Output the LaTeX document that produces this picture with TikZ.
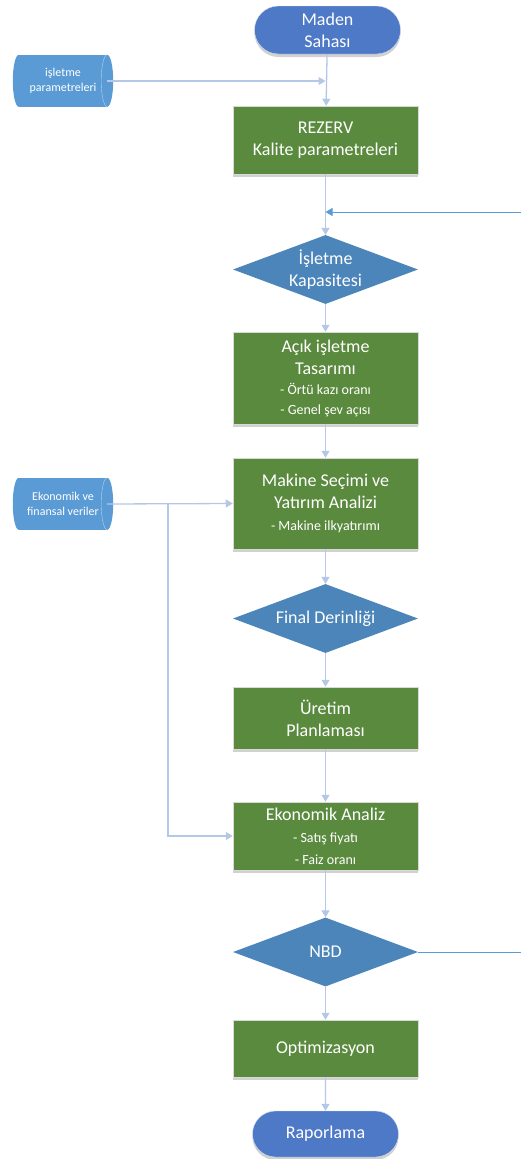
\documentclass[tikz,border=0pt]{standalone}
\usepackage{fontspec}
\setmainfont{Carlito}
\usetikzlibrary{shapes.geometric, shapes.misc, shadows, arrows.meta}
\definecolor{ucrenk}{HTML}{4E79C6}
\definecolor{kutu}{HTML}{5A8A3E}
\definecolor{karar}{HTML}{4B85BA}
\definecolor{veri}{HTML}{5B9BD5}
\definecolor{hat}{HTML}{B4C7E7}
\definecolor{donus}{HTML}{5B9BD5}

\begin{document}
\begin{tikzpicture}[x=1pt, y=-1pt,
  golge/.style={drop shadow={shadow xshift=0pt, shadow yshift=-3pt, opacity=0.3, fill=black!60}},
  uc/.style={rounded rectangle, fill=ucrenk, draw=white!75!ucrenk, minimum width=146pt, minimum height=48pt, inner sep=0pt, text=white, align=center, font=\fontsize{18}{22}\selectfont, golge},
  rec/.style={rectangle, fill=kutu, draw=black!15, line width=0.5pt, minimum width=185pt, inner sep=0pt, text=white, align=center, font=\fontsize{18}{22}\selectfont, golge},
  kar/.style={diamond, fill=karar, minimum width=185pt, minimum height=69pt, inner sep=0pt, aspect=2.7, text=white, align=center, font=\fontsize{18}{22}\selectfont},
  dat/.style={rectangle, fill=veri, minimum width=88pt, minimum height=52pt, inner sep=0pt, text=white, align=center, font=\fontsize{12}{14.5}\selectfont},
  ok/.style={draw=hat, line width=1.3pt, -{Triangle[length=7pt, width=8pt]}},
  don/.style={draw=donus, line width=0.9pt}]

  \useasboundingbox (0,0) rectangle (521,1159);

  \node[uc] (maden) at (327.5,30) {Maden\\Sahası};
  \node[dat] (param) at (63,81) {işletme\\parametreleri};
  \node[rec, minimum height=68pt] (rezerv) at (325.5,140) {REZERV\\Kalite parametreleri};
  \node[kar] (kapasite) at (325.5,269.5) {İşletme\\Kapasitesi};
  \node[rec, minimum height=92pt] (acik) at (325.5,378) {Açık işletme\\Tasarımı\\[-2pt]{\fontsize{14}{20}\selectfont - Örtü kazı oranı}\\[-2pt]{\fontsize{14}{20}\selectfont - Genel şev açısı}};
  \node[dat] (ekveri) at (63,504) {Ekonomik ve\\finansal veriler};
  \node[rec, minimum height=91pt] (makine) at (325.5,503.5) {Makine Seçimi ve\\Yatırım Analizi\\{\fontsize{14}{20}\selectfont - Makine ilkyatırımı}};
  \node[kar] (final) at (325.5,618.5) {Final Derinliği};
  \node[rec, minimum height=62pt] (uretim) at (325.5,718) {Üretim\\Planlaması};
  \node[rec, minimum height=68pt] (ekonomik) at (325.5,836) {Ekonomik Analiz\\{\fontsize{14}{20}\selectfont - Satış fiyatı}\\{\fontsize{14}{20}\selectfont - Faiz oranı}};
  \node[kar] (nbd) at (325.5,952) {NBD};
  \node[rec, minimum height=57pt] (optim) at (325.5,1048.5) {Optimizasyon};
  \node[uc, minimum height=46pt] (rapor) at (325.5,1134) {Raporlama};

  \foreach \n in {param, ekveri}{
    \fill[veri] (\n.north west) arc[start angle=90, end angle=270, x radius=6pt, y radius=26pt];
    \fill[veri] (\n.north east) arc[start angle=90, end angle=-90, x radius=6pt, y radius=26pt];
    \draw[white!55!veri, line width=0.4pt] (\n.north east) arc[start angle=90, end angle=270, x radius=6pt, y radius=26pt];
  }

  \coordinate (dust) at (521,212);
  \coordinate (dalt) at (521,952);
  \coordinate (kol) at (168,504);

  \draw[ok] (maden) -- (rezerv);
  \draw[ok] (param.east) -- (param.east -| rezerv);
  \draw[ok] (rezerv) -- (kapasite);
  \draw[ok] (kapasite) -- (acik);
  \draw[ok] (acik) -- (makine);
  \draw[ok] (ekveri.east) -- (makine.west);
  \draw[ok] (kol) |- (ekonomik.west);
  \draw[ok] (makine) -- (final);
  \draw[ok] (final) -- (uretim);
  \draw[ok] (uretim) -- (ekonomik);
  \draw[ok] (ekonomik) -- (nbd);
  \draw[ok] (nbd) -- (optim);
  \draw[ok] (optim) -- (rapor);
  \draw[don] (nbd.east) -- (dalt);
  \draw[don, -{Triangle[length=7pt, width=8pt]}] (dust) -- (dust -| rezerv);

\end{tikzpicture}
\end{document}
